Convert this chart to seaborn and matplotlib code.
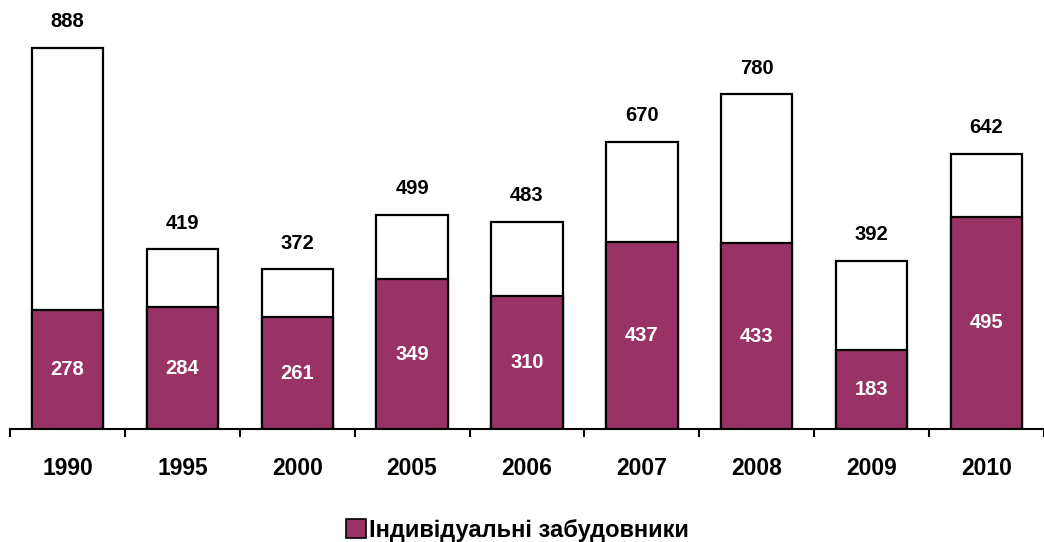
import matplotlib
matplotlib.use("Agg")
import matplotlib.pyplot as plt
from matplotlib.patches import Patch
import pandas as pd
import seaborn as sns

years = ["1990", "1995", "2000", "2005", "2006", "2007", "2008", "2009", "2010"]
total = [888, 419, 372, 499, 483, 670, 780, 392, 642]
individual = [278, 284, 261, 349, 310, 437, 433, 183, 495]
legend_label = "Індивідуальні забудовники"

purple = "#993366"

sns.set_style("white")
plt.rcParams["font.family"] = ["Liberation Sans", "DejaVu Sans"]
plt.rcParams["font.weight"] = "bold"
plt.rcParams["text.color"] = "black"
plt.rcParams["xtick.color"] = "black"

df = pd.DataFrame({"year": years, "total": total, "individual": individual})

fig = plt.figure(figsize=(10.44, 5.42), dpi=100)
ax = fig.add_axes([10 / 1044, 113 / 542, 1 - 10 / 1044, 1 - 113 / 542])

sns.barplot(data=df, x="year", y="total", color="white", edgecolor="black",
            linewidth=1.6, width=0.62, saturation=1, ax=ax)
sns.barplot(data=df, x="year", y="individual", color=purple, edgecolor="black",
            linewidth=1.6, width=0.62, saturation=1, ax=ax)

# labels
for i, (t, v) in enumerate(zip(total, individual)):
    ax.annotate(str(t), (i, t), xytext=(0, 12), textcoords="offset points",
                ha="center", va="bottom", fontsize=14.5, fontweight="bold",
                color="black")
    ax.text(i, v / 2, str(v), ha="center", va="center", fontsize=14.5,
            fontweight="bold", color="white")

ax.set_xlim(-0.5, len(years) - 0.5)
ax.set_ylim(0, 1000)
ax.set_xlabel("")
ax.set_ylabel("")
ax.set_yticks([])

ax.set_xticks([i - 0.5 for i in range(len(years) + 1)])
ax.set_xticklabels([])
ax.set_xticks(range(len(years)), minor=True)
ax.set_xticklabels(years, minor=True, fontsize=16.5, fontweight="bold",
                   color="black")
ax.tick_params(axis="x", which="major", direction="out", length=6, width=1.5,
               color="black", bottom=True)
ax.tick_params(axis="x", which="minor", length=0, pad=20)

for s in ["left", "top", "right"]:
    ax.spines[s].set_visible(False)
ax.spines["bottom"].set_color("black")
ax.spines["bottom"].set_linewidth(1.5)

handle = Patch(facecolor=purple, edgecolor="black", linewidth=1.2)
fig.legend([handle], [legend_label], loc="center",
           bbox_to_anchor=(517 / 1044, 1 - 530 / 542), frameon=False,
           handlelength=0.85, handleheight=0.85, handletextpad=0.12,
           labelcolor="black", prop={"size": 17, "weight": "bold"})

fig.savefig("out.png", dpi=100)
